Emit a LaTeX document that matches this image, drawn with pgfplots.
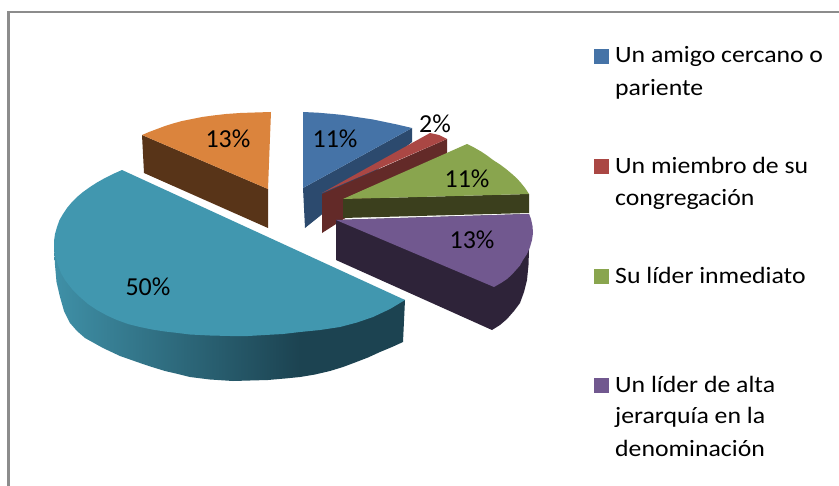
\documentclass[border=0pt]{standalone}
\usepackage{pgfplots}
\pgfplotsset{compat=1.18}
\usepackage{fontspec}
\setmainfont{Carlito}
\newfontfamily\lgfont[FakeStretch=1.1]{Carlito}
\definecolor{blueT}{HTML}{4573A7}
\definecolor{blueS}{HTML}{2C4A6E}
\definecolor{redT}{HTML}{AA4744}
\definecolor{redS}{HTML}{632A28}
\definecolor{greenT}{HTML}{89A54E}
\definecolor{greenS}{HTML}{3B3F1D}
\definecolor{purpleT}{HTML}{71588F}
\definecolor{purpleS}{HTML}{2E2339}
\definecolor{tealT}{HTML}{4197AF}
\definecolor{orangeT}{HTML}{DB843D}
\definecolor{orangeS}{HTML}{583418}
\definecolor{tealA}{HTML}{3F90A7}
\definecolor{tealB}{HTML}{1C4351}
\definecolor{frameC}{HTML}{8C8C8C}
\pgfdeclarehorizontalshading{tealside}{100bp}{color(0bp)=(tealA); color(25bp)=(tealA); color(60bp)=(tealB); color(100bp)=(tealB)}
\tikzset{
  lb/.style={anchor=center, font=\fontsize{26}{30}\selectfont, inner sep=0pt},
  tx/.style={anchor=base west, font=\lgfont\fontsize{23.5}{28}\selectfont, inner sep=0pt},
}
\begin{document}
\begin{tikzpicture}
\begin{axis}[
  scale only axis, width=839bp, height=486bp,
  xmin=0, xmax=839, ymin=0, ymax=486, y dir=reverse,
  axis lines=none, clip=true,
]
% page
\addplot[fill=white, draw=none, forget plot] coordinates {(0,0) (839,0) (839,486) (0,486)} --cycle;
% frame
\addplot[draw=frameC, line width=2.5bp, forget plot] coordinates {(8.5,486) (8.5,12) (839,12)};
% orange
\addplot[fill=orangeS, draw=none] coordinates {(142,135) (144,173) (268,228) (268,189)} --cycle;
\addplot[fill=orangeT, draw=none] coordinates {(142,135) (149,132) (157,129) (165,126) (173,123.5) (182,121) (192,119) (202,117) (213,115.5) (226,114) (240,113) (255,112.5) (271,112) (269.5,150) (268,189)} --cycle;
% blue
\addplot[fill=blueS, draw=none] coordinates {(303,188) (305,228) (412,142) (412,128)} --cycle;
\addplot[fill=blueT, draw=none] coordinates {(303,112) (318,112.7) (333,114) (343,115) (353,116.5) (363,118) (373,119.5) (385,122) (397,124.5) (412,128) (303,188)} --cycle;
% red
\addplot[fill=redS, draw=none] coordinates {(322,194) (322,233) (447,153) (447,139)} --cycle;
\addplot[fill=redT, draw=none] coordinates {(322,193) (430,133) (439,135) (447,139)} --cycle;
% purple
\addplot[fill=purpleS, draw=none] coordinates {(336,220) (336,260) (492,330) (500,325) (507,319) (514,311) (520,303) (524,292) (527,280) (528.5,265) (529,250) (529,214)} --cycle;
\addplot[fill=purpleT, draw=none] coordinates {(336,220) (529,214) (531,219) (532.5,226) (533,233) (532,240) (530,247) (527,254) (523,260) (520,265.5) (516,270) (512,274.5) (507,279) (501,283) (494,287)} --cycle;
% green
\addplot[fill=greenS, draw=none] coordinates {(343,199) (343,218) (529,213) (529,194)} --cycle;
\addplot[fill=greenT, draw=none] coordinates {(343,199) (467,144) (474,147.5) (481,151.5) (487,155.5) (493,160) (500,164.5) (506,169) (512,174) (517,178.5) (521,183) (525,188) (529,194)} --cycle;
% teal
\addplot[shading=tealside, draw=none] coordinates {(54,248) (55,265) (56.5,282) (60,297) (64,311) (70,323) (77,331) (85,338) (94,343) (103,348) (120,356) (140,363) (152,367) (165,371) (178,374) (190,377) (210,379.5) (233,381) (250,380.5) (268,380) (285,378.5) (300,377) (315,374.5) (330,371) (343,367) (355,362.5) (368,357.5) (380,352) (392,347) (403,342) (405,300)} --cycle;
\addplot[fill=tealT, draw=none] coordinates {(122,170) (113,174) (105,178) (97,182.5) (90,187) (83,192) (77,197) (72,202) (67,208) (63,214) (59.5,220) (57,227) (55,234) (54,241) (54,248) (55.5,257) (58,265) (61,273) (65,280) (72,289) (80,297) (88,304) (97,310) (107,315.5) (117,320) (128,324) (140,327) (152,329.5) (165,331.5) (178,333) (190,334.5) (210,335.5) (230,336) (248,336) (265,335) (283,334) (300,332) (320,330) (340,327) (357,322.5) (373,317) (390,309) (405,300)} --cycle;
% legend squares
\addplot[fill=blueT, draw=none] coordinates {(594,49) (609,49) (609,64) (594,64)} --cycle;
\addplot[fill=redT, draw=none] coordinates {(594,159) (609,159) (609,174) (594,174)} --cycle;
\addplot[fill=greenT, draw=none] coordinates {(594,269) (609,269) (609,284) (594,284)} --cycle;
\addplot[fill=purpleT, draw=none] coordinates {(594,378) (609,378) (609,393) (594,393)} --cycle;
% data labels
\node[lb] at (axis cs:335,139) {11\%};
\node[lb] at (axis cs:435,124) {2\%};
\node[lb] at (axis cs:467,179) {11\%};
\node[lb] at (axis cs:472,240) {13\%};
\node[lb] at (axis cs:148,287) {50\%};
\node[lb] at (axis cs:228,139) {13\%};
% legend text
\node[tx] at (axis cs:615,63) {Un amigo cercano o};
\node[tx] at (axis cs:615,95) {pariente};
\node[tx] at (axis cs:615,173) {Un miembro de su};
\node[tx] at (axis cs:615,205) {congregación};
\node[tx] at (axis cs:615,283) {Su líder inmediato};
\node[tx] at (axis cs:615,392) {Un líder de alta};
\node[tx] at (axis cs:615,423) {jerarquía en la};
\node[tx] at (axis cs:615,456) {denominación};
\end{axis}
\end{tikzpicture}
\end{document}
